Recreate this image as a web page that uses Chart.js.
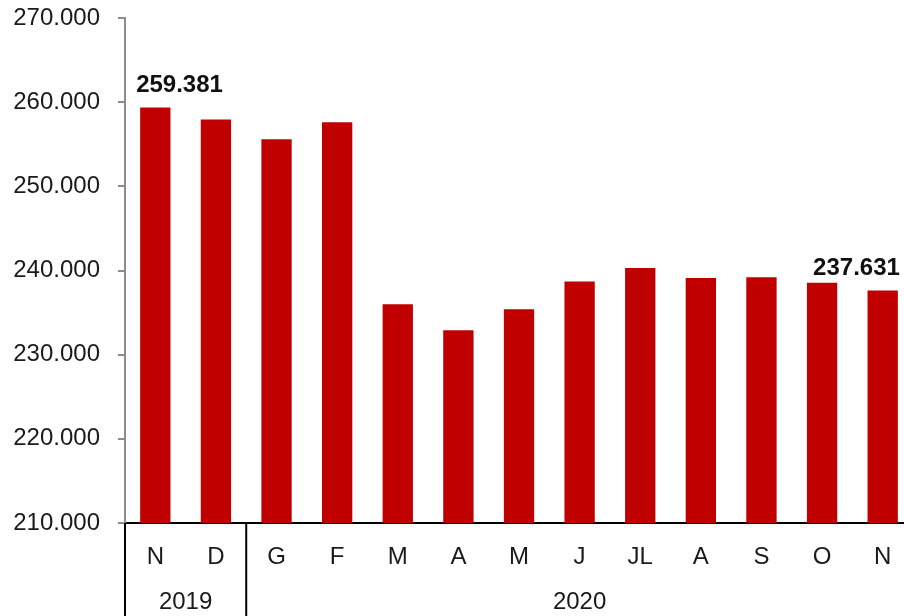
<!DOCTYPE html>
<html>
<head>
<meta charset="utf-8">
<script src="https://cdn.jsdelivr.net/npm/chart.js@4"></script>
<style>
  html, body { margin: 0; padding: 0; background: #fff; overflow: hidden; }
  #wrap { position: relative; width: 913px; height: 616px; }
</style>
</head>
<body>
<div id="wrap"><canvas id="bar-chart"></canvas></div>
<script>
const months = ['N', 'D', 'G', 'F', 'M', 'A', 'M', 'J', 'JL', 'A', 'S', 'O', 'N']
const values = [259381, 257950, 255600, 257600, 236000, 232900, 235400, 238700, 240300, 239100, 239200, 238550, 237631]
const years = ['2019', '2020']
const yearCounts = [2, 11]
const yTicks = [210000, 220000, 230000, 240000, 250000, 260000, 270000]
const labelled = [0, 12]

const fmt = n => String(n).replace(/\B(?=(\d{3})+(?!\d))/g, '.')
const FONT = '"Liberation Sans", Arial, sans-serif'

// year row under the months + the black separators
const yearRow = {
    id: 'yearRow',
    afterDraw(chart) {
        const ctx = chart.ctx
        const x = chart.scales.x
        const half = (x.getPixelForValue(1) - x.getPixelForValue(0)) / 2
        const top = chart.chartArea.bottom
        ctx.save()
        ctx.strokeStyle = '#000'
        ctx.lineWidth = 2
        ctx.fillStyle = '#1a1a1a'
        ctx.font = '24px ' + FONT
        ctx.textAlign = 'center'
        ctx.textBaseline = 'middle'
        let start = 0
        years.forEach((yr, i) => {
            const left = x.getPixelForValue(start) - half
            const right = x.getPixelForValue(start + yearCounts[i] - 1) + half
            ctx.beginPath()
            ctx.moveTo(left, top)
            ctx.lineTo(left, chart.height)
            ctx.stroke()
            ctx.fillText(yr, (left + right) / 2, top + 79)
            start += yearCounts[i]
        })
        ctx.restore()
    }
}

// value labels on first and last bar
const valueLabels = {
    id: 'valueLabels',
    afterDatasetsDraw(chart) {
        const ctx = chart.ctx
        const bars = chart.getDatasetMeta(0).data
        ctx.save()
        ctx.fillStyle = '#111'
        ctx.font = 'bold 24px ' + FONT
        ctx.textBaseline = 'bottom'
        labelled.forEach((i, k) => {
            const b = bars[i]
            if (k === 0) {
                ctx.textAlign = 'left'
                ctx.fillText(fmt(values[i]), b.x - b.width / 2 - 4, b.y - 10)
            } else {
                ctx.textAlign = 'right'
                ctx.fillText(fmt(values[i]), b.x + b.width / 2 + 2, b.y - 10)
            }
        })
        ctx.restore()
    }
}

new Chart(document.getElementById('bar-chart'), {
    type: 'bar',
    data: {
        labels: months,
        datasets: [{
            data: values,
            backgroundColor: '#c00000',
            borderWidth: 0,
            categoryPercentage: 1,
            barPercentage: 0.5,
        }]
    },
    options: {
        responsive: true,
        maintainAspectRatio: false,
        animation: false,
        layout: { padding: { top: 18, left: 0, right: 0, bottom: 0 } },
        scales: {
            x: {
                grid: { display: false, drawTicks: false },
                border: { display: true, color: '#000', width: 2 },
                ticks: {
                    color: '#1a1a1a',
                    font: { family: FONT, size: 24 },
                    padding: 20,
                    maxRotation: 0,
                    autoSkip: false,
                },
                afterFit(scale) {
                    scale.height = 93
                    scale.paddingLeft = 0
                    scale.paddingRight = 0
                }
            },
            y: {
                min: 210000,
                max: 270000,
                afterBuildTicks(scale) { scale.ticks = yTicks.map(v => ({ value: v })) },
                grid: {
                    drawOnChartArea: false,
                    drawTicks: true,
                    tickLength: 7,
                    color: '#8c8c8c',
                    lineWidth: 2,
                },
                border: { display: true, color: '#8c8c8c', width: 2 },
                ticks: {
                    color: '#1a1a1a',
                    font: { family: FONT, size: 24 },
                    padding: 18,
                    callback: v => fmt(v),
                },
                afterFit(scale) {
                    scale.width = 125
                    scale.paddingTop = 0
                    scale.paddingBottom = 0
                }
            }
        },
        plugins: {
            legend: { display: false },
            tooltip: { enabled: false },
        }
    },
    plugins: [valueLabels, yearRow]
})
</script>
</body>
</html>
